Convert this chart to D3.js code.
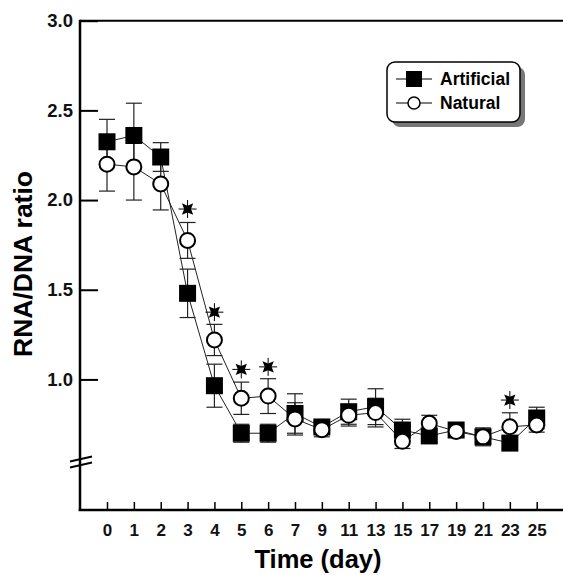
<!DOCTYPE html>
<html>
<head>
<meta charset="utf-8">
<script src="https://cdn.jsdelivr.net/npm/d3@7"></script>
<style>
  body { margin: 0; background: #fff; }
  text { font-family: "Liberation Sans", Arial, sans-serif; font-weight: bold; }
</style>
</head>
<body>
<svg id="chart" width="563" height="575"></svg>
<script>
// data
const days = ["0", "1", "2", "3", "4", "5", "6", "7", "9", "11", "13", "15", "17", "19", "21", "23", "25"];
const artificial = [2.325, 2.36, 2.24, 1.48, 0.965, 0.70, 0.70, 0.81, 0.735, 0.82, 0.848, 0.718, 0.685, 0.718, 0.68, 0.645, 0.785];
const artificialErr = [0.125, 0.18, 0.08, 0.135, 0.12, 0.05, 0.05, 0.11, 0.03, 0.07, 0.10, 0.06, 0.04, 0.03, 0.05, 0.03, 0.06];
const natural = [2.20, 2.185, 2.09, 1.775, 1.22, 0.895, 0.907, 0.78, 0.72, 0.80, 0.815, 0.655, 0.755, 0.71, 0.68, 0.736, 0.746];
const naturalErr = [0.15, 0.185, 0.145, 0.10, 0.087, 0.09, 0.097, 0.09, 0.04, 0.06, 0.08, 0.04, 0.045, 0.03, 0.03, 0.078, 0.04];
const starDays = ["3", "4", "5", "6", "23"];
const starValues = [1.95, 1.375, 1.056, 1.07, 0.885];
const yTicks = [1.0, 1.5, 2.0, 2.5, 3.0];

const svg = d3.select("#chart");
const plotLeft = 80, plotTop = 20.7, plotBottom = 510, plotRight = 563;

const x = d3.scalePoint().domain(days).range([107, 536.7]);
const y = d3.scaleLinear().domain([0.272, 3.0]).range([plotBottom, plotTop]);

// frame: top line
svg.append("line")
  .attr("x1", plotLeft).attr("x2", plotRight).attr("y1", plotTop).attr("y2", plotTop)
  .attr("stroke", "#000").attr("stroke-width", 2);

// y axis (ticks pointing inward)
const yAxis = svg.append("g")
  .attr("transform", `translate(${plotLeft},0)`)
  .call(d3.axisRight(y).tickValues(yTicks).tickSize(18).tickFormat(d3.format(".1f")));
yAxis.select(".domain").remove();
yAxis.selectAll("line").attr("stroke", "#000").attr("stroke-width", 2);
yAxis.selectAll("text")
  .attr("x", -7).attr("text-anchor", "end")
  .style("font-size", "18.5px").attr("fill", "#111");

svg.append("line")
  .attr("x1", plotLeft).attr("x2", plotLeft).attr("y1", plotTop - 1).attr("y2", plotBottom + 1)
  .attr("stroke", "#000").attr("stroke-width", 2.5);

// axis break
[0, 6].forEach((off) => {
  svg.append("line")
    .attr("x1", 70).attr("y1", 461.5 + off).attr("x2", 92).attr("y2", 456.5 + off)
    .attr("stroke", "#000").attr("stroke-width", 1.8);
});

// x axis (ticks pointing up)
const xAxis = svg.append("g")
  .attr("transform", `translate(0,${plotBottom})`)
  .call(d3.axisTop(x).tickSize(8).tickSizeOuter(0));
xAxis.select(".domain").remove();
xAxis.selectAll("line").attr("stroke", "#000").attr("stroke-width", 1.5);
xAxis.selectAll("text")
  .attr("y", 20).attr("dy", "0.36em")
  .style("font-size", "17px").attr("fill", "#111");

svg.append("line")
  .attr("x1", plotLeft - 1.25).attr("x2", plotRight).attr("y1", plotBottom).attr("y2", plotBottom)
  .attr("stroke", "#000").attr("stroke-width", 2.5);

// axis titles
svg.append("text")
  .attr("x", 318).attr("y", 568)
  .attr("text-anchor", "middle")
  .style("font-size", "25.5px")
  .text("Time (day)");

svg.append("text")
  .attr("transform", "rotate(-90)")
  .attr("x", -264).attr("y", 32)
  .attr("text-anchor", "middle")
  .style("font-size", "26.5px")
  .text("RNA/DNA ratio");

// series
const series = [
  { name: "Artificial", values: artificial, err: artificialErr, shape: "square" },
  { name: "Natural", values: natural, err: naturalErr, shape: "circle" }
];

const line = d3.line()
  .x((d, i) => x(days[i]))
  .y((d) => y(d));

series.forEach((s) => {
  svg.append("path")
    .datum(s.values)
    .attr("d", line)
    .attr("fill", "none")
    .attr("stroke", "#222")
    .attr("stroke-width", 1);
});

// error bars
series.forEach((s) => {
  const g = svg.append("g").attr("stroke", "#222").attr("stroke-width", 1.2);
  s.values.forEach((v, i) => {
    const cx = x(days[i]);
    const lo = y(v - s.err[i]), hi = y(v + s.err[i]);
    g.append("line").attr("x1", cx).attr("x2", cx).attr("y1", lo).attr("y2", hi);
    g.append("line").attr("x1", cx - 8).attr("x2", cx + 8).attr("y1", lo).attr("y2", lo);
    g.append("line").attr("x1", cx - 8).attr("x2", cx + 8).attr("y1", hi).attr("y2", hi);
  });
});

// markers
svg.selectAll(".sq")
  .data(artificial)
  .enter()
  .append("rect")
  .attr("class", "sq")
  .attr("x", (d, i) => x(days[i]) - 8.5)
  .attr("y", (d) => y(d) - 8.5)
  .attr("width", 17).attr("height", 17)
  .attr("fill", "#000");

svg.selectAll(".ci")
  .data(natural)
  .enter()
  .append("circle")
  .attr("class", "ci")
  .attr("cx", (d, i) => x(days[i]))
  .attr("cy", (d) => y(d))
  .attr("r", 7.5)
  .attr("fill", "#fff")
  .attr("stroke", "#000")
  .attr("stroke-width", 2);

// significance stars
const starPath = (() => {
  const pts = [];
  for (let k = 0; k < 8; k++) {
    const a = (Math.PI / 4) * k + Math.PI / 4;
    const r = k % 2 === 0 ? 8 : 3.4;
    pts.push([r * Math.cos(a), r * Math.sin(a)]);
  }
  return "M" + pts.map((p) => p.join(",")).join("L") + "Z";
})();

starDays.forEach((dd, i) => {
  const g = svg.append("g")
    .attr("transform", `translate(${x(dd)},${y(starValues[i])})`);
  g.append("path").attr("d", starPath).attr("fill", "#000");
  g.append("path").attr("d", "M-9,0H9M0,-9V9").attr("stroke", "#000").attr("stroke-width", 1);
});

// legend
const lg = svg.append("g");
lg.append("rect")
  .attr("x", 392).attr("y", 67).attr("width", 133).attr("height", 60)
  .attr("rx", 8).attr("fill", "#777");
lg.append("rect")
  .attr("x", 387).attr("y", 62).attr("width", 133).attr("height", 60)
  .attr("rx", 8).attr("fill", "#fff").attr("stroke", "#000").attr("stroke-width", 1.5);

series.forEach((s, i) => {
  const ly = 79 + i * 24;
  lg.append("line").attr("x1", 396).attr("x2", 432).attr("y1", ly).attr("y2", ly)
    .attr("stroke", "#000").attr("stroke-width", 1.2);
  if (s.shape === "square") {
    lg.append("rect").attr("x", 406).attr("y", ly - 8).attr("width", 16).attr("height", 16).attr("fill", "#000");
  } else {
    lg.append("circle").attr("cx", 414).attr("cy", ly).attr("r", 6)
      .attr("fill", "#fff").attr("stroke", "#000").attr("stroke-width", 1.5);
  }
  lg.append("text")
    .attr("x", 440).attr("y", ly).attr("dy", "0.36em")
    .style("font-size", "17.5px")
    .text(s.name);
});
</script>
</body>
</html>
